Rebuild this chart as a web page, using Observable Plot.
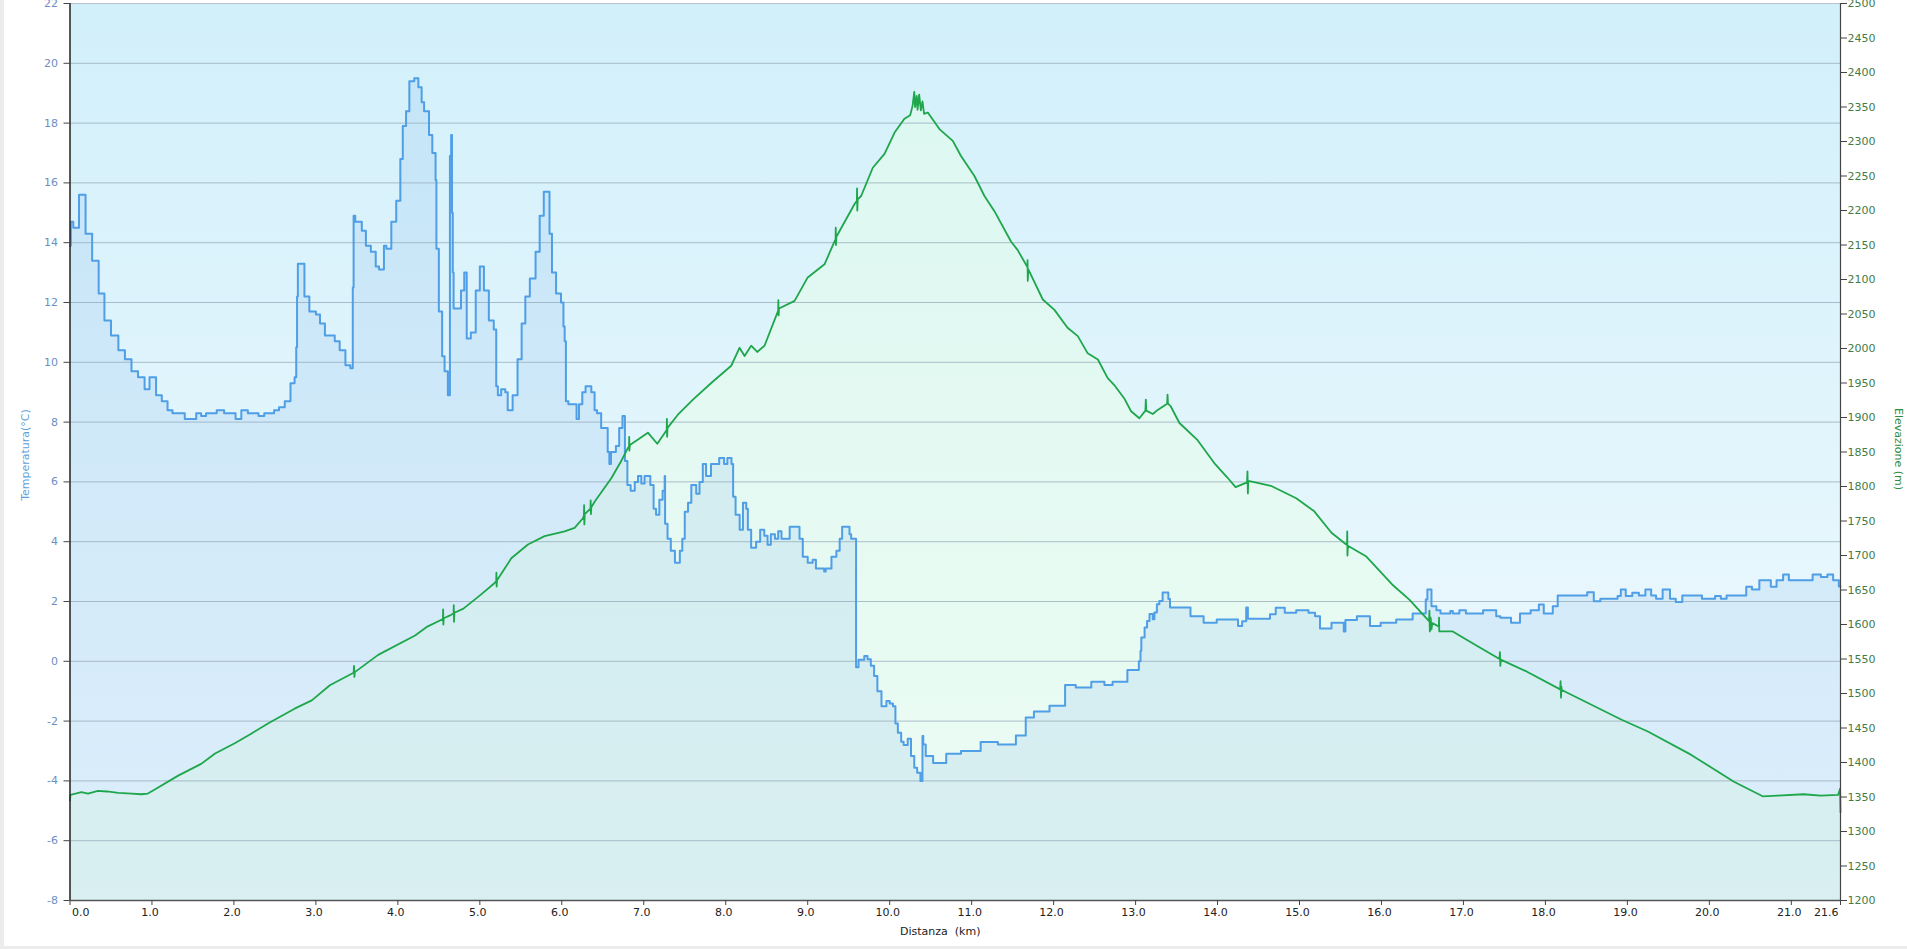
<!DOCTYPE html>
<html><head><meta charset="utf-8">
<script src="https://cdn.jsdelivr.net/npm/d3@7"></script>
<script src="https://cdn.jsdelivr.net/npm/@observablehq/plot@0.6"></script>
<style>
html,body{margin:0;padding:0;background:#fff;overflow:hidden;}
#wrap{position:relative;width:1907px;height:949px;}
#edgeL{position:absolute;left:0;top:0;width:4px;height:949px;background:#ececec;}
#edgeB{position:absolute;left:0;bottom:0;width:1907px;height:3px;background:#ececec;}
#chart{position:absolute;left:0;top:0;}
</style></head>
<body>
<div id="wrap"><div id="chart"></div><div id="edgeL"></div><div id="edgeB"></div></div>
<script>
// Temperature (°C) step series: start of each step (km) and value
const tempKm = [0.00,0.01,0.04,0.11,0.19,0.27,0.35,0.42,0.50,0.59,0.67,0.75,0.83,0.91,0.97,1.05,1.12,1.19,1.25,1.40,1.54,1.60,1.66,1.79,1.88,2.02,2.09,2.17,2.30,2.37,2.49,2.55,2.62,2.69,2.74,2.76,2.77,2.78,2.86,2.92,3.00,3.05,3.11,3.23,3.29,3.36,3.42,3.45,3.46,3.48,3.56,3.61,3.67,3.73,3.77,3.83,3.86,3.92,3.98,4.03,4.06,4.10,4.14,4.20,4.25,4.29,4.32,4.38,4.42,4.46,4.47,4.50,4.54,4.57,4.61,4.635,4.65,4.66,4.67,4.68,4.77,4.81,4.84,4.89,4.95,5.00,5.05,5.11,5.17,5.20,5.22,5.26,5.31,5.34,5.40,5.46,5.51,5.555,5.61,5.68,5.73,5.78,5.85,5.88,5.93,5.99,6.02,6.035,6.05,6.08,6.18,6.21,6.25,6.29,6.36,6.40,6.43,6.48,6.56,6.58,6.60,6.66,6.70,6.74,6.77,6.80,6.84,6.89,6.93,6.97,7.01,7.08,7.12,7.15,7.19,7.23,7.255,7.26,7.29,7.33,7.38,7.44,7.47,7.50,7.54,7.58,7.64,7.68,7.72,7.76,7.82,7.92,7.98,8.02,8.07,8.09,8.12,8.17,8.21,8.25,8.27,8.31,8.37,8.42,8.47,8.51,8.55,8.60,8.64,8.68,8.78,8.90,8.94,9.00,9.06,9.10,9.20,9.22,9.29,9.35,9.39,9.42,9.51,9.53,9.59,9.62,9.69,9.73,9.77,9.81,9.85,9.90,9.96,10.00,10.04,10.07,10.10,10.14,10.17,10.22,10.26,10.30,10.335,10.375,10.40,10.41,10.44,10.53,10.69,10.87,11.11,11.32,11.54,11.66,11.76,11.95,12.14,12.27,12.46,12.62,12.72,12.90,13.04,13.06,13.07,13.11,13.14,13.17,13.21,13.23,13.26,13.29,13.33,13.40,13.42,13.67,13.83,13.99,14.25,14.30,14.35,14.37,14.64,14.71,14.82,14.96,15.11,15.19,15.25,15.39,15.54,15.56,15.70,15.86,15.99,16.18,16.38,16.54,16.56,16.61,16.67,16.72,16.84,16.87,16.95,17.03,17.24,17.40,17.45,17.58,17.69,17.82,17.92,17.98,18.09,18.15,18.51,18.59,18.67,18.88,18.92,18.98,19.06,19.14,19.22,19.29,19.35,19.43,19.52,19.59,19.67,19.91,20.07,20.14,20.21,20.45,20.52,20.61,20.75,20.82,20.90,20.97,21.26,21.36,21.44,21.51,21.58,21.60];
const tempC = [13.9,14.7,14.5,15.6,14.3,13.4,12.3,11.4,10.9,10.4,10.1,9.7,9.5,9.1,9.5,8.9,8.7,8.4,8.3,8.1,8.3,8.2,8.3,8.4,8.3,8.1,8.4,8.3,8.2,8.3,8.4,8.5,8.7,9.3,9.5,10.5,12.2,13.3,12.2,11.7,11.6,11.3,10.9,10.7,10.4,9.9,9.8,12.5,14.9,14.7,14.4,13.9,13.7,13.2,13.1,13.9,13.8,14.7,15.4,16.8,17.9,18.4,19.4,19.5,19.2,18.7,18.4,17.6,17.0,16.1,13.8,11.7,10.2,9.7,8.9,16.9,17.6,15.0,13.0,11.8,12.4,13.0,10.8,11.0,12.4,13.2,12.4,11.4,11.1,9.2,8.9,9.1,9.0,8.4,8.9,10.1,11.3,12.2,12.8,13.7,14.9,15.7,14.3,13.0,12.3,12.0,11.2,10.7,8.7,8.6,8.1,8.6,9.0,9.2,9.0,8.4,8.3,7.8,7.0,6.6,7.0,7.2,7.8,8.2,6.7,5.9,5.7,6.0,6.2,5.95,6.2,5.9,5.1,4.9,5.4,5.7,6.2,4.6,4.1,3.7,3.3,3.7,4.1,5.0,5.3,5.9,5.6,6.0,6.6,6.2,6.6,6.8,6.6,6.8,6.6,5.5,4.9,4.4,5.3,5.1,4.4,3.8,4.0,4.4,4.2,3.9,4.25,4.1,4.35,4.1,4.5,4.1,3.5,3.3,3.4,3.1,3.0,3.1,3.5,3.7,4.1,4.5,4.25,4.1,-0.2,0.05,0.18,0.07,-0.15,-0.49,-1.0,-1.5,-1.33,-1.41,-1.5,-2.08,-2.39,-2.69,-2.8,-2.59,-3.17,-3.56,-3.73,-4.0,-2.5,-2.78,-3.17,-3.4,-3.09,-3.0,-2.7,-2.78,-2.48,-1.88,-1.68,-1.49,-0.79,-0.88,-0.68,-0.79,-0.68,-0.29,0.0,0.35,0.8,1.13,1.35,1.58,1.41,1.63,1.91,2.02,2.3,2.08,1.8,1.51,1.29,1.4,1.18,1.34,1.8,1.42,1.57,1.79,1.62,1.71,1.62,1.51,1.1,1.29,1.0,1.38,1.51,1.18,1.29,1.4,1.6,2.07,2.4,1.84,1.71,1.6,1.68,1.6,1.71,1.6,1.71,1.51,1.46,1.29,1.6,1.71,1.9,1.6,1.84,2.2,2.31,2.01,2.09,2.18,2.4,2.18,2.29,2.2,2.4,2.2,2.09,2.4,2.09,1.98,2.2,2.09,2.18,2.09,2.2,2.49,2.4,2.71,2.49,2.71,2.9,2.71,2.9,2.82,2.9,2.71,2.5,2.5];

// Elevation (m) profile
const elevKm = [0.000,0.005,0.14,0.22,0.34,0.45,0.59,0.75,0.87,0.95,1.05,1.32,1.60,1.77,2.01,2.20,2.42,2.74,2.95,3.17,3.46,3.465,3.47,3.475,3.76,4.21,4.36,4.55,4.552,4.555,4.56,4.65,4.68,4.682,4.685,4.69,4.80,5.02,5.17,5.20,5.202,5.205,5.21,5.384,5.587,5.79,6.034,6.156,6.258,6.27,6.272,6.275,6.28,6.35,6.352,6.355,6.36,6.40,6.604,6.725,6.807,6.82,6.822,6.825,6.83,6.93,7.05,7.165,7.28,7.282,7.285,7.29,7.416,7.6,7.823,8.067,8.168,8.23,8.31,8.384,8.473,8.64,8.642,8.645,8.65,8.84,9.0,9.205,9.33,9.34,9.342,9.345,9.35,9.57,9.60,9.602,9.605,9.61,9.652,9.794,9.937,10.06,10.18,10.25,10.28,10.30,10.31,10.33,10.34,10.36,10.38,10.40,10.42,10.465,10.607,10.77,10.87,11.034,11.156,11.278,11.48,11.56,11.68,11.682,11.685,11.69,11.868,12.01,12.17,12.295,12.416,12.54,12.66,12.74,12.86,12.945,13.046,13.12,13.125,13.13,13.21,13.27,13.385,13.39,13.395,13.43,13.535,13.75,13.96,14.12,14.22,14.36,14.365,14.37,14.375,14.46,14.65,14.96,15.18,15.39,15.57,15.58,15.582,15.585,15.59,15.81,16.13,16.34,16.58,16.585,16.59,16.60,16.61,16.62,16.70,16.702,16.705,16.87,17.08,17.44,17.445,17.45,17.455,17.77,18.18,18.185,18.19,18.195,18.20,18.93,19.25,19.78,20.3,20.65,20.83,21.15,21.36,21.57,21.595,21.6];
const elevM = [1345,1353,1357,1355,1359,1358,1356,1355,1354,1355,1362,1381,1398,1413,1428,1441,1457,1478,1490,1512,1530,1540,1524,1531,1556,1584,1597,1608,1622,1600,1609,1614,1616,1628,1604,1617,1623,1644,1659,1663,1675,1655,1664,1696,1716,1728,1735,1740,1754,1758,1773,1745,1760,1768,1780,1760,1770,1778,1812,1837,1856,1858,1872,1852,1860,1868,1878,1862,1882,1898,1872,1885,1904,1926,1950,1975,2001,1989,2004,1995,2004,2055,2070,2048,2058,2069,2103,2122,2156,2158,2175,2150,2162,2209,2214,2232,2200,2216,2221,2262,2282,2313,2333,2338,2352,2372,2350,2366,2346,2368,2345,2358,2340,2342,2318,2301,2279,2250,2221,2199,2155,2143,2118,2128,2098,2115,2071,2056,2030,2018,1993,1984,1957,1947,1928,1909,1899,1910,1926,1910,1905,1911,1920,1933,1920,1916,1892,1868,1834,1813,1799,1806,1822,1790,1808,1806,1801,1783,1764,1733,1716,1716,1735,1700,1714,1699,1658,1636,1605,1620,1590,1610,1593,1602,1597,1610,1590,1590,1575,1550,1560,1540,1549,1532,1506,1518,1494,1510,1505,1462,1445,1411,1372,1351,1352,1354,1352,1353,1362,1328];

// Axis ticks
const xTicks = [0,1,2,3,4,5,6,7,8,9,10,11,12,13,14,15,16,17,18,19,20,21,21.6];
const tempTicks = [-8,-6,-4,-2,0,2,4,6,8,10,12,14,16,18,20,22];
const elevTicks = d3.range(1200, 2501, 50);

const T0 = -8, T1 = 22, E0 = 1200, E1 = 2500;
const toT = e => T0 + (e - E0) / (E1 - E0) * (T1 - T0);
const fromT = t => Math.round(E0 + (t - T0) / (T1 - T0) * (E1 - E0));

const temp = tempKm.map((km, i) => ({km, t: tempC[i]}));
const elev = elevKm.map((km, i) => ({km, e: elevM[i]}));

const defs = () => {
  const g = document.createElementNS("http://www.w3.org/2000/svg", "defs");
  g.innerHTML = '<linearGradient id="bgGrad" x1="0" y1="0" x2="0" y2="1">' +
    '<stop offset="0" stop-color="rgb(210,240,250)"/>' +
    '<stop offset="1" stop-color="rgb(242,250,254)"/></linearGradient>';
  return g;
};

const chart = Plot.plot({
  width: 1907, height: 946,
  marginLeft: 69.5, marginRight: 67, marginTop: 3, marginBottom: 46,
  x: {domain: [0, 21.6]},
  y: {domain: [T0, T1]},
  style: {fontFamily: "'DejaVu Sans', Verdana, sans-serif", fontSize: "11px", background: "transparent", overflow: "visible"},
  marks: [
    defs,
    Plot.frame({fill: "url(#bgGrad)", stroke: "none"}),
    Plot.areaY(elev, {x: "km", y1: T0, y2: d => toT(d.e), fill: "rgb(230,255,231)", fillOpacity: 0.45}),
    Plot.areaY(temp, {x: "km", y1: T0, y2: "t", curve: "step-after", fill: "rgb(105,165,235)", fillOpacity: 0.15}),
    Plot.ruleY(tempTicks.slice(1, -1), {stroke: "rgb(150,170,185)", strokeOpacity: 0.75}),
    Plot.ruleY([T1], {stroke: "rgb(180,195,205)"}),
    Plot.line(temp, {x: "km", y: "t", curve: "step-after", stroke: "#4f9ee6", strokeWidth: 2}),
    Plot.line(elev, {x: "km", y: d => toT(d.e), stroke: "#1ea64b", strokeWidth: 1.8}),
    Plot.ruleX([0], {stroke: "#222", strokeWidth: 1.5}),
    Plot.ruleX([21.6], {stroke: "#444", strokeWidth: 1.2}),
    Plot.ruleY([T0], {stroke: "#555", strokeWidth: 1.5}),
    // left axis
    Plot.axisY(tempTicks, {anchor: "left", tickSize: 6, tickFormat: () => "", stroke: "#444", label: null}),
    Plot.axisY(tempTicks, {anchor: "left", tickSize: 0, tickPadding: 12, tickFormat: d => String(d), color: "#6d8ec2", label: null}),
    // right axis
    Plot.axisY(elevTicks.map(toT), {anchor: "right", tickSize: 6, tickFormat: () => "", stroke: "#444", label: null}),
    Plot.axisY(elevTicks.map(toT), {anchor: "right", tickSize: 0, tickPadding: 7, tickFormat: t => String(fromT(t)), color: "#3f7c49", label: null}),
    // bottom axis
    Plot.axisX(xTicks, {anchor: "bottom", tickSize: 5, tickFormat: () => "", stroke: "#444", label: null}),
    Plot.text(xTicks.slice(1, -1), {x: d => d, text: d => d.toFixed(1), frameAnchor: "bottom", lineAnchor: "top", dy: 8, dx: -2, fill: "#222"}),
    Plot.text([0], {x: d => d, text: d => d.toFixed(1), frameAnchor: "bottom", lineAnchor: "top", dy: 8, dx: 2, textAnchor: "start", fill: "#222"}),
    Plot.text([21.6], {x: d => d, text: d => d.toFixed(1), frameAnchor: "bottom", lineAnchor: "top", dy: 8, dx: -2, textAnchor: "end", fill: "#222"}),
    // titles
    Plot.text(["Temperatura(°C)"], {frameAnchor: "left", textAnchor: "middle", rotate: -90, dx: -45, dy: 3, fill: "#5f9fdc"}),
    Plot.text(["Elevazione (m)"], {frameAnchor: "right", textAnchor: "middle", rotate: 90, dx: 58, dy: -3, fill: "#2f8c40"}),
    Plot.text(["Distanza\u00a0 (km)"], {frameAnchor: "bottom", lineAnchor: "middle", dy: 31, dx: -15, fill: "#222"})
  ]
});
document.getElementById("chart").appendChild(chart);
</script>
</body></html>
